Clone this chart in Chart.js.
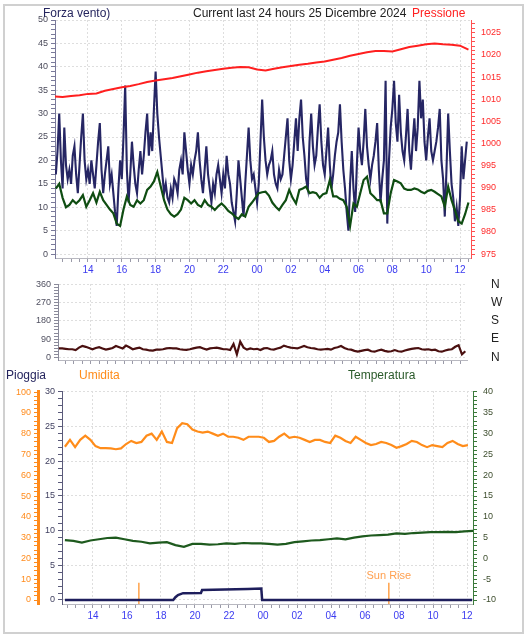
<!DOCTYPE html>
<html>
<head>
<meta charset="utf-8">
<script src="https://cdn.jsdelivr.net/npm/chart.js@4.4.1/dist/chart.umd.min.js"></script>
<style>
  body { margin: 0; background: #fff; font-family: "Liberation Sans", Arial, sans-serif; }
  #frame { position: absolute; left: 3px; top: 4px; width: 517px; height: 626px; border: 2px solid #d0d0d0; }
  canvas { position: absolute; left: 0; }
  .lbl { position: absolute; font-size: 12px; white-space: nowrap; line-height: 14px; }
</style>
</head>
<body>
<div id="frame"></div>
<canvas id="windChart" style="top:0" width="531" height="285"></canvas>
<canvas id="dirChart" style="top:275px" width="531" height="95"></canvas>
<canvas id="meteoChart" style="top:385px" width="531" height="240"></canvas>

<div class="lbl" style="left:43px;top:6px;color:#25255e">Forza vento)</div>
<div class="lbl" style="left:193px;top:6px;color:#222">Current last 24 hours 25 Dicembre 2024</div>
<div class="lbl" style="left:412px;top:6px;color:#ff2020">Pressione</div>
<div class="lbl" style="left:6px;top:368px;color:#25255e">Pioggia</div>
<div class="lbl" style="left:79px;top:368px;color:#ff8c1a">Umidita</div>
<div class="lbl" style="left:348px;top:368px;color:#2a5a2a">Temperatura</div>

<script>
// values, x = hours after 12:00 of 24 Dec
const gustStart = 0.1, gustStep = 0.1; // wind gust (Forza vento)
const gustSpeed = [
  17, 22, 30, 20, 14, 27, 19, 16, 18, 15,
  21, 23, 17, 13, 19, 25, 30, 20, 16, 18,
  15, 20, 17, 14, 19, 24, 28, 18, 13, 17,
  20, 23, 15, 17, 13, 9, 6, 14, 20, 16,
  25, 36, 18, 11, 17, 24, 19, 15, 13, 18,
  22, 17, 21, 26, 30, 21, 26, 22, 31, 39,
  30, 25, 21, 17, 13, 15, 12, 11, 14, 12,
  16, 15, 13, 18, 20, 17, 26, 22, 18, 15,
  19, 17, 20, 22, 26, 20, 16, 13, 18, 23,
  17, 14, 11, 15, 13, 17, 19, 16, 13, 17,
  14, 21, 17, 15, 11, 9, 7, 13, 20, 16,
  12, 8, 15, 21, 27, 20, 16, 17, 14, 11,
  15, 24, 33, 25, 20, 17, 19, 20, 22, 17,
  15, 14, 18, 16, 17, 21, 25, 29, 20, 16,
  19, 24, 29, 22, 29, 33, 25, 21, 16, 14,
  24, 30, 23, 19, 21, 27, 32, 24, 19, 17,
  22, 27, 19, 14, 17, 21, 24, 26, 32, 24,
  18, 14, 9, 5, 15, 22, 14, 9, 19, 27,
  22, 19, 24, 31, 23, 19, 16, 19, 21, 24,
  28, 18, 11, 16, 20, 37, 6.5, 20, 27, 31,
  37, 28, 24, 34, 26, 22, 20, 25, 31, 22,
  18, 24, 29, 22, 27, 37, 29, 33, 24, 20,
  25, 29, 22, 20, 22, 24, 27, 31, 20, 16,
  8, 18, 30, 22, 15, 12, 7, 10, 6, 12,
  23, 16, 20, 24
];
const avgStart = 0.1, avgStep = 0.2; // average wind
const avgSpeed = [
  14, 15, 12, 10, 10.5, 11.5, 10.8, 11.5, 12.6, 10.1,
  11.5, 13, 11, 13.3, 11.5, 10.5, 9.5, 8.7, 6.5, 6,
  9.5, 12.3, 10.5, 10.1, 11.5, 10.8, 11.5, 13.7, 14.4, 15.5,
  17.5, 14.5, 11.5, 9.5, 8.5, 8, 8.5, 9.5, 12, 11.5,
  10.8, 11.5, 10.5, 10.1, 11.5, 10.5, 10.1, 9.4, 10.2, 10.8,
  10.1, 9.2, 8.7, 8, 7.5, 8.5, 8, 10.1, 11, 12,
  13, 13.2, 13.3, 12.5, 11, 10.1, 9.4, 10.5, 11.5, 13.7,
  12, 10.8, 13.7, 14, 14.4, 13, 13.2, 13, 12, 12.8,
  13, 15.8, 12.3, 12.3, 11.8, 11.5, 10.1, 6, 10.8, 10.1,
  13, 15.8, 16.5, 13, 12.3, 11.5, 11.5, 8.7, 8.7, 13,
  15.8, 15.5, 15.1, 14, 13.7, 13.7, 14, 13.8, 13.3, 13,
  13.5, 13.7, 13.3, 12.8, 12.3, 10.1, 14.4, 11.5, 9.4, 7,
  6.5, 8.5, 11
];
const pressStart = 0, pressStep = 0.5; // Pressione hPa
const pressure = [
  1010.6, 1010.5, 1010.7, 1010.9, 1011.2, 1011.3, 1011.9, 1012.3, 1012.7, 1013.0,
  1013.4, 1013.9, 1014.2, 1014.5, 1014.8, 1015.2, 1015.6, 1016.0, 1016.3, 1016.6,
  1016.9, 1017.1, 1017.3, 1017.2, 1016.7, 1016.5, 1016.9, 1017.2, 1017.5, 1017.8,
  1018.0, 1018.3, 1018.5, 1018.9, 1019.3, 1019.8, 1020.2, 1020.6, 1020.9, 1020.9,
  1020.8, 1021.3, 1021.8, 1022.1, 1022.4, 1022.6, 1022.4, 1022.3, 1022.1, 1021.2
];
const dirStart = 0.1, dirStep = 0.2; // wind direction degrees
const windDir = [
  44, 44, 42, 40, 40, 36, 48, 56, 52, 46,
  40, 46, 50, 44, 38, 42, 46, 56, 50, 44,
  58, 50, 40, 44, 48, 40, 38, 34, 33, 38,
  38, 40, 44, 46, 44, 44, 40, 38, 37, 40,
  44, 48, 50, 44, 38, 44, 46, 48, 44, 40,
  40, 36, 66, 15, 77, 48, 38, 44, 40, 42,
  36, 44, 46, 40, 38, 44, 48, 58, 52, 48,
  46, 44, 50, 56, 50, 46, 44, 40, 38, 40,
  42, 38, 46, 50, 56, 46, 40, 38, 32, 28,
  32, 36, 38, 30, 28, 34, 38, 32, 28, 30,
  36, 30, 28, 34, 38, 42, 44, 46, 40, 38,
  40, 36, 38, 30, 28, 34, 38, 40, 52, 60,
  15, 30
];
const humStart = 0.35, humStep = 0.3; // Umidita %
const humidity = [
  73.7, 77, 73.5, 77, 79, 77, 74, 73, 73, 72.9,
  72.5, 72.9, 75, 76.5, 75.5, 76, 79, 80, 77, 81,
  76, 75.5, 82.6, 85, 84.5, 82, 81, 80.5, 81, 80,
  79, 80, 78.5, 78.5, 78, 77, 78.5, 78.5, 78.5, 78,
  76, 76.5, 78.5, 80, 78, 78.5, 78, 77, 76, 77,
  77, 76, 75.5, 79, 78, 76.5, 75.5, 78.5, 77, 75.5,
  74.5, 75, 76, 75.5, 74.5, 73.2, 74, 75, 76.5, 76,
  74.5, 73.5, 74.5, 74, 73.5, 75.5, 76.5, 75, 74, 74.5
];
const tempStart = 0.35, tempStep = 0.5; // Temperatura C
const temperature = [
  4.4, 4.2, 3.8, 4.3, 4.6, 4.9, 5.0, 4.6, 4.2, 4.0,
  3.6, 3.8, 3.9, 3.2, 2.8, 3.5, 3.5, 3.3, 3.4, 3.6,
  3.5, 3.7, 3.6, 3.6, 3.5, 3.3, 3.5, 3.9, 4.1, 4.3,
  4.4, 4.6, 4.8, 4.6, 5.0, 5.3, 5.5, 5.6, 5.7, 6.0,
  5.9, 6.1, 6.2, 6.3, 6.3, 6.4, 6.3, 6.5, 6.6
];
const rainHours = [0.35, 6.72, 6.85, 7.0, 7.3, 8.35, 8.42, 11.1, 11.9, 11.95, 24.3];
const rainMm = [0, 0, 0.4, 0.72, 0.98, 1.0, 1.44, 1.58, 1.65, 0, 0];
const sunSet = 4.7, sunRise = 19.4;
const dirLetters = { 0: 'N', 90: 'E', 180: 'S', 270: 'W', 360: 'N' };

Chart.defaults.font.family = '"Liberation Sans", Arial, sans-serif';

function series(start, step, values) {
  return values.map((v, i) => ({ x: start + i * step, y: v }));
}
function steps(from, to, by) { // tick positions only
  const out = [];
  for (let v = from; v <= to + 1e-9; v += by) out.push({ value: Math.round(v * 100) / 100 });
  return out;
}
function fixSize(s, size) { // fixed axis size, no extra label padding
  if (s.isHorizontal()) s.height = size; else s.width = size;
  s.paddingTop = 0; s.paddingBottom = 0; s.paddingLeft = 0; s.paddingRight = 0;
}

function timeAxis(min, max, h, showLabels) {
  return {
    type: 'linear', min, max, bounds: 'data',
    afterBuildTicks: s => { s.ticks = steps(Math.ceil(min * 2) / 2, max, 0.5); },
    afterFit: s => fixSize(s, h),
    ticks: {
      display: showLabels, autoSkip: false, maxRotation: 0, padding: 2, color: '#3b3bf0', font: { size: 10 },
      callback: v => (v % 2 === 0 ? String((12 + v) % 24).padStart(2, '0') : '')
    },
    grid: { color: c => (c.tick && c.tick.value % 2 === 0 ? '#dedede' : 'transparent'), tickColor: '#9a9aa8', tickLength: 4 },
    border: { color: '#b8b8c0', dash: [2, 2] }
  };
}

function valueAxis(o) {
  return {
    type: 'linear', position: o.pos, min: o.min, max: o.max, bounds: 'data', weight: o.weight || 0,
    afterBuildTicks: s => { s.ticks = steps(o.from, o.to, o.step); },
    afterFit: s => fixSize(s, o.width),
    ticks: { autoSkip: false, padding: o.pad || 3, color: o.color, font: { size: 9 },
      callback: v => (v % o.every === 0 ? v : '') },
    grid: { drawOnChartArea: !!o.grid, color: c => (c.tick && c.tick.value % o.every === 0 ? '#dedede' : 'transparent'),
      tickColor: o.tickColor, tickLength: 4 },
    border: { color: o.tickColor, width: o.borderWidth || 1, dash: [2, 2] }
  };
}

function baseOptions(top, scales) {
  return {
    responsive: false, animation: false,
    layout: { padding: { top: top, left: 0, right: 0, bottom: 0 } },
    elements: { point: { radius: 0 }, line: { tension: 0 } },
    plugins: { legend: { display: false }, tooltip: { enabled: false } },
    scales
  };
}

// top: wind speed + pressure
new Chart(document.getElementById('windChart'), {
  type: 'line',
  data: { datasets: [
    { label: 'Pressione', data: series(pressStart, pressStep, pressure), yAxisID: 'yPress', borderColor: '#ff1f1f', borderWidth: 2, order: 1 },
    { label: 'Media', data: series(avgStart, avgStep, avgSpeed), yAxisID: 'yWind', borderColor: '#0f4d12', borderWidth: 2.2, order: 2 },
    { label: 'Forza vento', data: series(gustStart, gustStep, gustSpeed), yAxisID: 'yWind', borderColor: '#262664', borderWidth: 2.1, order: 3 }
  ]},
  options: baseOptions(20, {
    x: timeAxis(0.05, 24.65, 27, true),
    yWind: valueAxis({ pos: 'left', min: -0.85, max: 50, from: 0, to: 50, step: 1, every: 5, color: '#4a4a5a', tickColor: '#7a7a9a', width: 55, grid: true }),
    yPress: valueAxis({ pos: 'right', min: 974.1, max: 1027.9, from: 975, to: 1027, step: 1, every: 5, color: '#ff2a2a', tickColor: '#ff5050', width: 60, pad: 6 })
  })
});

// middle: wind direction
new Chart(document.getElementById('dirChart'), {
  type: 'line',
  data: { datasets: [
    { label: 'Direzione', data: series(dirStart, dirStep, windDir), yAxisID: 'yDir', borderColor: '#4a1010', borderWidth: 2.2 }
  ]},
  options: baseOptions(9, {
    x: timeAxis(0.05, 24.4, 10, false),
    yDir: valueAxis({ pos: 'left', min: -13, max: 361.5, from: 0, to: 360, step: 15, every: 90, color: '#505060', tickColor: '#8a8a9a', width: 58, grid: true }),
    yLetters: {
      type: 'linear', position: 'right', min: -13, max: 361.5, bounds: 'data',
      afterBuildTicks: s => { s.ticks = [0, 90, 180, 270, 360].map(v => ({ value: v })); },
      afterFit: s => fixSize(s, 64),
      ticks: { autoSkip: false, padding: 16, color: '#222', font: { size: 12 }, callback: v => dirLetters[v] },
      grid: { display: false }, border: { display: false }
    }
  })
});

// bottom: rain, humidity, temperature
const sunLabel = {
  id: 'sunLabel',
  afterDatasetsDraw(chart) {
    const { ctx, scales } = chart;
    const x = scales.x.getPixelForValue(sunRise);
    const y = scales.yRain.getPixelForValue(2.5);
    ctx.save();
    ctx.fillStyle = '#ffa050';
    ctx.font = '11px "Liberation Sans", Arial';
    ctx.textAlign = 'center';
    ctx.textBaseline = 'bottom';
    ctx.fillText('Sun Rise', x, y - 1);
    ctx.restore();
  }
};

new Chart(document.getElementById('meteoChart'), {
  type: 'line',
  data: { datasets: [
    { label: 'Pioggia', data: rainHours.map((h, i) => ({ x: h, y: rainMm[i] })), yAxisID: 'yRain', borderColor: '#1e1e5c', borderWidth: 2.5, order: 1 },
    { label: 'Sun Set', data: [{ x: sunSet, y: -0.6 }, { x: sunSet, y: 2.5 }], yAxisID: 'yRain', borderColor: '#ffa24a', borderWidth: 1.5, order: 2 },
    { label: 'Sun Rise', data: [{ x: sunRise, y: -0.6 }, { x: sunRise, y: 2.5 }], yAxisID: 'yRain', borderColor: '#ffa24a', borderWidth: 1.5, order: 2 },
    { label: 'Temperatura', data: series(tempStart, tempStep, temperature), yAxisID: 'yTemp', borderColor: '#1e5a1e', borderWidth: 2.2, order: 3 },
    { label: 'Umidita', data: series(humStart, humStep, humidity), yAxisID: 'yHum', borderColor: '#ff8c1a', borderWidth: 2.2, order: 4 }
  ]},
  options: baseOptions(6, {
    x: timeAxis(0.18, 24.35, 21, true),
    yHum: valueAxis({ pos: 'left', weight: 2, min: -1.92, max: 100.5, from: 0, to: 100, step: 2, every: 10, color: '#ff8a1a', tickColor: '#ff8a1a', width: 38, borderWidth: 3 }),
    yRain: valueAxis({ pos: 'left', weight: 1, min: -0.58, max: 30.14, from: 0, to: 30, step: 1, every: 5, color: '#404060', tickColor: '#5a5a7a', width: 24, grid: true }),
    yTemp: valueAxis({ pos: 'right', min: -10.96, max: 40.24, from: -10, to: 40, step: 1, every: 5, color: '#3c4c2c', tickColor: '#3a7a3a', width: 58, pad: 6 })
  }),
  plugins: [sunLabel]
});
</script>
</body>
</html>
